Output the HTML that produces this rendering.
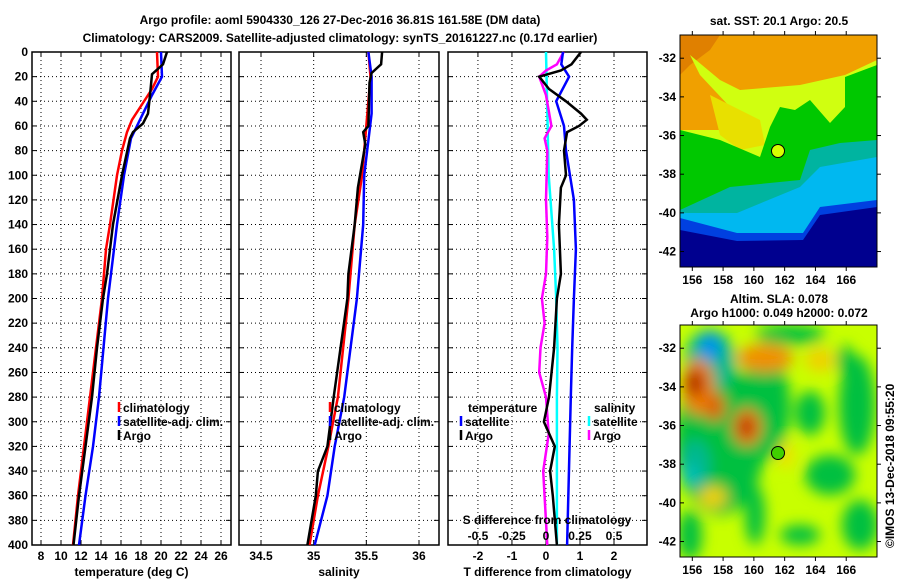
<!DOCTYPE html>
<html><head><meta charset="utf-8"><style>
html,body{margin:0;padding:0;background:#fff}
svg{display:block}
text{font-family:"Liberation Sans",Arial,sans-serif;font-weight:bold;font-size:12px;fill:#000}
</style></head><body>
<svg id="fig" width="900" height="580" viewBox="0 0 900 580" xmlns="http://www.w3.org/2000/svg">
<defs>
<filter id="blur" x="-50%" y="-50%" width="200%" height="200%"><feGaussianBlur stdDeviation="7"/></filter>
<clipPath id="c1"><rect x="0" y="0" width="197" height="232"/></clipPath>
<clipPath id="c2"><rect x="0" y="0" width="197" height="232"/></clipPath>
</defs>
<text x="340" y="24" text-anchor="middle" font-size="13.5">Argo profile: aoml 5904330_126 27-Dec-2016 36.81S 161.58E (DM data)</text>
<text x="340" y="42" text-anchor="middle" font-size="13.5">Climatology: CARS2009. Satellite-adjusted climatology: synTS_20161227.nc (0.17d earlier)</text>
<g id="panels"></g>

<!-- SST map -->
<g>
<text x="779" y="25" text-anchor="middle" font-size="11.5">sat. SST: 20.1 Argo: 20.5</text>
<g transform="translate(680,35)"><g clip-path="url(#c1)">
<rect width="197" height="232" fill="#f0a000"/>
<polygon fill="#e08000" points="0,0 40,0 30,15 10,30 0,40"/>
<polygon fill="#d0ff10" points="10,20 40,45 60,55 120,50 165,40 197,25 197,232 0,232 0,95 45,95 50,72 20,40"/>
<polygon fill="#e8e000" points="30,60 60,75 80,85 85,110 60,115 40,100"/>
<polygon fill="#00c800" points="0,95 40,105 80,122 90,92 100,72 115,75 130,65 150,88 165,72 165,42 197,30 197,232 0,232"/>
<polygon fill="#00b4a0" points="0,175 50,152 120,145 130,115 160,108 197,105 197,232 0,232"/>
<polygon fill="#00b8f0" points="0,178 57,178 120,152 140,132 197,122 197,232 0,232"/>
<polygon fill="#0040e0" points="0,183 57,198 123,198 140,172 197,165 197,232 0,232"/>
<polygon fill="#00008f" points="0,195 57,206 123,205 140,180 197,172 197,232 0,232"/>
<circle cx="98" cy="116" r="6.5" fill="#d8ff00" stroke="#000" stroke-width="1"/>
</g></g>
<rect x="680" y="35" width="197" height="232" fill="none" stroke="#000"/>
</g>

<!-- SLA map -->
<g>
<text x="779" y="303" text-anchor="middle" font-size="11.5">Altim. SLA: 0.078</text>
<text x="779" y="317" text-anchor="middle" font-size="11.5">Argo h1000: 0.049 h2000: 0.072</text>
<g transform="translate(680,325)"><g clip-path="url(#c2)">
<rect width="197" height="232" fill="#c8ff00"/>
<g filter="url(#blur)">
<ellipse cx="40" cy="115" rx="45" ry="75" fill="#00c040"/>
<ellipse cx="85" cy="80" rx="25" ry="55" fill="#00c040"/>
<ellipse cx="30" cy="35" rx="25" ry="30" fill="#00b890"/>
<ellipse cx="30" cy="22" rx="10" ry="14" fill="#0090f0"/>
<ellipse cx="15" cy="140" rx="15" ry="25" fill="#00b890"/>
<ellipse cx="10" cy="150" rx="8" ry="10" fill="#00c0c0"/>
<ellipse cx="110" cy="10" rx="35" ry="10" fill="#00c040"/>
<ellipse cx="130" cy="88" rx="15" ry="22" fill="#00c040"/>
<ellipse cx="177" cy="80" rx="18" ry="50" fill="#00c040"/>
<ellipse cx="165" cy="35" rx="8" ry="15" fill="#00c040"/>
<ellipse cx="150" cy="150" rx="25" ry="20" fill="#00c040"/>
<ellipse cx="180" cy="200" rx="18" ry="25" fill="#00c040"/>
<ellipse cx="75" cy="190" rx="10" ry="30" fill="#00c040"/>
<ellipse cx="120" cy="210" rx="20" ry="10" fill="#00c040"/>
<ellipse cx="10" cy="210" rx="12" ry="25" fill="#00c040"/>
<ellipse cx="85" cy="33" rx="28" ry="14" fill="#f09000"/>
<ellipse cx="18" cy="62" rx="16" ry="28" fill="#f08000"/>
<ellipse cx="15" cy="58" rx="9" ry="14" fill="#b02000"/>
<ellipse cx="35" cy="82" rx="10" ry="14" fill="#e06000"/>
<ellipse cx="67" cy="102" rx="14" ry="18" fill="#f07000"/>
<ellipse cx="66" cy="102" rx="7" ry="10" fill="#b02000"/>
<ellipse cx="140" cy="35" rx="15" ry="12" fill="#f0d000"/>
<ellipse cx="33" cy="172" rx="14" ry="11" fill="#f0d000"/>
<ellipse cx="106" cy="130" rx="8" ry="14" fill="#f0e000"/>
</g>
<circle cx="98" cy="128" r="6.5" fill="#40d000" stroke="#000" stroke-width="1"/>
</g></g>
<rect x="680" y="325" width="197" height="232" fill="none" stroke="#000"/>
</g>
<g id="maps-axes"></g>
<text transform="translate(894,548) rotate(-90)" font-size="12" font-weight="normal">©IMOS 13-Dec-2018 09:55:20</text>
</svg>
<script>
// ---- data ----
const depthTicks = [0,20,40,60,80,100,120,140,160,180,200,220,240,260,280,300,320,340,360,380,400];
const tempTicks = [8,10,12,14,16,18,20,22,24,26];
const salTicks = [34.5,35,35.5,36];
const salTickLabels = ["34.5","35","35.5","36"];
const tdiffTicks = [-2,-1,0,1,2];
const sdiffTicks = [-0.5,-0.25,0,0.25,0.5];
const sdiffTickLabels = ["-0.5","-0.25","0","0.25","0.5"];

const argoTDepth = [0,10,18,35,50,58,65,70,100,140,180,200,240,280,320,360,400];
const argoT = [20.6,20.2,19.1,18.9,18.7,18.2,17.2,16.9,16.1,15.2,14.6,14.2,13.6,13.1,12.45,11.8,11.25];
const climTDepth = [0,20,30,45,55,65,80,100,140,160,200,280,320,360,400];
const climT = [19.6,19.7,19.1,17.9,17.1,16.6,16.1,15.6,14.9,14.5,14.1,12.9,12.3,11.7,11.2];
const satTDepth = [0,20,35,50,70,100,140,180,200,280,320,360,400];
const satT = [20.0,20.1,19.1,18.2,17.0,16.3,15.6,15.0,14.7,13.8,13.2,12.45,11.8];

const argoSDepth = [0,10,17,25,60,65,75,100,110,140,180,200,280,320,340,360,400];
const argoS = [35.65,35.64,35.55,35.53,35.52,35.47,35.49,35.44,35.42,35.39,35.33,35.32,35.19,35.13,35.04,35.02,34.94];
const climSDepth = [0,20,60,100,140,200,280,320,360,400];
const climS = [35.52,35.54,35.5,35.46,35.39,35.33,35.23,35.14,35.04,34.96];
const satSDepth = [0,20,50,100,140,200,280,320,360,400];
const satS = [35.52,35.55,35.55,35.48,35.47,35.41,35.29,35.2,35.13,35.01];

const tSatDiffDepth = [0,10,20,40,60,80,120,160,200,240,280,400];
const tSatDiff = [0.5,0.45,0.68,0.3,0.53,0.59,0.82,0.88,0.82,0.77,0.73,0.62];
const tArgoDiffDepth = [0,10,15,20,30,40,50,55,60,65,80,100,110,140,180,200,240,280,300,320,340,360,400];
const tArgoDiff = [1.03,0.75,0.44,-0.2,0.09,0.59,1.03,1.2,0.97,0.62,0.53,0.59,0.44,0.38,0.44,0.32,0.24,0.09,-0.06,0.26,0.12,0.2,0.32];
const sSatDiffDepth = [0,100,160,200,240,280,400];
const sSatDiff = [0,0.02,0.06,0.075,0.085,0.08,0.08];
const sArgoDiffDepth = [0,10,15,20,35,60,70,80,120,150,180,200,220,240,260,280,310,340,400];
const sArgoDiff = [0.13,0.08,0,-0.05,0,0.04,-0.01,0.01,0,0.01,0,-0.03,-0.01,-0.04,-0.05,0,0.02,-0.02,0.01];

const mapLonTicks = [156,158,160,162,164,166];
const mapLatTicks = [-32,-34,-36,-38,-40,-42];

// ---- drawing ----
const NS="http://www.w3.org/2000/svg";
const TOP=52, BOT=545;
const yD = d => TOP + (d/400)*(BOT-TOP);
function mk(tag, attrs, parent){const e=document.createElementNS(NS,tag);for(const k in attrs)e.setAttribute(k,attrs[k]);parent.appendChild(e);return e;}
const root=document.getElementById('panels');

const panels=[
 {name:'temperature-panel',x0:32,x1:231,v0:7.1,v1:27.0,ticks:tempTicks,labels:tempTicks.map(String),xlabel:'temperature (deg C)'},
 {name:'salinity-panel',x0:239,x1:439,v0:34.291,v1:36.190,ticks:salTicks,labels:salTickLabels,xlabel:'salinity'},
 {name:'difference-panel',x0:448,x1:647,v0:-2.88,v1:2.97,ticks:tdiffTicks,labels:tdiffTicks.map(String),xlabel:'T difference from climatology'}
];
panels.forEach((p,pi)=>{
  p.sx = v => p.x0 + (v-p.v0)/(p.v1-p.v0)*(p.x1-p.x0);
  const g=mk('g',{},root);
  
  
  depthTicks.forEach(d=>{ if(d>0&&d<400){const l=mk('line',{x1:p.x0,x2:p.x1,y1:yD(d),y2:yD(d),stroke:'#000','stroke-width':1,'stroke-dasharray':'1,3'},g);
    
    }
    const t1=mk('line',{x1:p.x0,x2:p.x0+5,y1:yD(d),y2:yD(d),stroke:'#000'},g);
    
    
    const t2=mk('line',{x1:p.x1-5,x2:p.x1,y1:yD(d),y2:yD(d),stroke:'#000'},g);
    
    
  });
  p.ticks.forEach((v,i)=>{const x=p.sx(v);
    const l=mk('line',{x1:x,x2:x,y1:TOP,y2:BOT,stroke:'#000','stroke-dasharray':'1,3'},g);
    
    
    mk('line',{x1:x,x2:x,y1:BOT,y2:BOT-5,stroke:'#000'},g);
    mk('line',{x1:x,x2:x,y1:TOP,y2:TOP+5,stroke:'#000'},g);
    const t=mk('text',{x:x,y:560,'text-anchor':'middle'},g);t.textContent=p.labels[i];
    
    
  });
  const xl=mk('text',{x:(p.x0+p.x1)/2,y:576,'text-anchor':'middle'},g);xl.textContent=p.xlabel;
  
  
  const fr=mk('rect',{x:p.x0,y:TOP,width:p.x1-p.x0,height:BOT-TOP,fill:'none',stroke:'#000','stroke-width':1.5},g);
  
  
});
depthTicks.forEach(d=>{const t=mk('text',{x:28,y:yD(d)+4,'text-anchor':'end'},root);t.textContent=String(d);
  
  });

function line(p,depths,vals,color,name,scale){
  const pts=depths.map((d,i)=>p.sx(vals[i]*(scale||1)).toFixed(1)+','+yD(d).toFixed(1)).join(' ');
  const e=mk('polyline',{points:pts,fill:'none',stroke:color,'stroke-width':2.5},root);
  
  
}
line(panels[0],climTDepth,climT,'#f00','temperature-climatology-line');
line(panels[0],satTDepth,satT,'#00f','temperature-satellite-line');
line(panels[0],argoTDepth,argoT,'#000','temperature-argo-line');
line(panels[1],climSDepth,climS,'#f00','salinity-climatology-line');
line(panels[1],satSDepth,satS,'#00f','salinity-satellite-line');
line(panels[1],argoSDepth,argoS,'#000','salinity-argo-line');
line(panels[2],sSatDiffDepth,sSatDiff,'#00ffff','s-diff-satellite-line',4);
line(panels[2],sArgoDiffDepth,sArgoDiff,'#ff00ff','s-diff-argo-line',4);
line(panels[2],tSatDiffDepth,tSatDiff,'#00f','t-diff-satellite-line');
line(panels[2],tArgoDiffDepth,tArgoDiff,'#000','t-diff-argo-line');

const sT=mk('text',{x:547,y:524,'text-anchor':'middle'},root);sT.textContent='S difference from climatology';


sdiffTicks.forEach((v,i)=>{const t=mk('text',{x:panels[2].sx(v*4),y:540,'text-anchor':'middle'},root);t.textContent=sdiffTickLabels[i];
  
  });

function legend(x,y,color,label,name){
  const g=mk('g',{},root);
  
  
  if(color) mk('line',{x1:x,x2:x,y1:y-10,y2:y,stroke:color,'stroke-width':2.5},g);
  const t=mk('text',{x:x+(color?4:0),y:y},g);t.textContent=label;
}
[[0,'#f00','climatology'],[1,'#00f','satellite-adj. clim.'],[2,'#000','Argo']].forEach(a=>{
  legend(119,412+a[0]*14,a[1],a[2],'legend-entry');
  legend(330,412+a[0]*14,a[1],a[2],'legend-entry');
});
legend(468,412,null,'temperature','legend-title');
legend(461,426,'#00f','satellite','legend-entry');
legend(461,440,'#000','Argo','legend-entry');
legend(594,412,null,'salinity','legend-title');
legend(589,426,'#00ffff','satellite','legend-entry');
legend(589,440,'#ff00ff','Argo','legend-entry');

const ma=document.getElementById('maps-axes');
[[35,267],[325,557]].forEach(([y0,y1])=>{
  const lonX = lon => 680 + (lon-155.2)/(168-155.2)*197;
  const latY = lat => y0 + (-30.8-lat)/(12)*232;
  mapLonTicks.forEach(l=>{const x=lonX(l);
    mk('line',{x1:x,x2:x,y1:y0-4,y2:y0,stroke:'#000'},ma);
    mk('line',{x1:x,x2:x,y1:y1,y2:y1+4,stroke:'#000'},ma);
    const t=mk('text',{x:x,y:y1+17,'text-anchor':'middle'},ma);t.textContent=String(l);
    
    });
  mapLatTicks.forEach(l=>{const y=latY(l);
    mk('line',{x1:680,x2:684,y1:y,y2:y,stroke:'#000'},ma);
    mk('line',{x1:877,x2:881,y1:y,y2:y,stroke:'#000'},ma);
    const t=mk('text',{x:676,y:y+4,'text-anchor':'end'},ma);t.textContent=String(l);
    
    });
});
</script>
</body></html>
